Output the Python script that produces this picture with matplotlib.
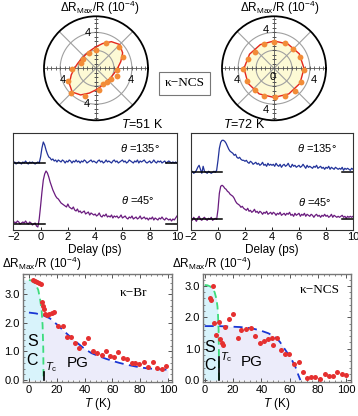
import numpy as np
import matplotlib.pyplot as plt
from matplotlib.ticker import MultipleLocator, FormatStrFormatter

plt.rcParams['font.family'] = ['Liberation Sans', 'DejaVu Sans']
plt.rcParams['mathtext.fontset'] = 'custom'
plt.rcParams['mathtext.rm'] = 'Liberation Sans'
plt.rcParams['mathtext.it'] = 'Liberation Sans:italic'
plt.rcParams['mathtext.bf'] = 'Liberation Sans:bold'

# ---- polar plots: angle (deg) and dR_max/R (1e-4) ----
pol51_ang = [-4.5, 21.9, 43.3, 68.7, 90, 115, 143.6, 161.6, 182.4, 204.6, 224.6, 248.3, 279, 294.6, 310.4, 324.6, 339.6]
pol51_amp = [2.38, 3.27, 3.51, 3.06, 2.04, 1.84, 1.75, 1.76, 2.71, 3.38, 3.95, 3.31, 2.44, 1.96, 1.94, 2.05, 2.45]
fit51_ang = [0, 15, 30, 45, 60, 75, 90, 105, 120, 135, 150, 165, 180,
             195, 210, 225, 240, 255, 270, 285, 300, 315, 330, 345, 360]
fit51_amp = [2.40, 2.86, 3.43, 3.75, 3.43, 2.86, 2.40, 2.11, 1.95, 1.90, 1.95, 2.11, 2.40,
             2.86, 3.43, 3.75, 3.43, 2.86, 2.40, 2.11, 1.95, 1.90, 1.95, 2.11, 2.40]

pol72_ang = [-3, 24.4, 45, 67.4, 90, 112.3, 138.2, 160.9, 181.8, 204.8, 228.3, 250.1, 271.3, 292.3, 313.7, 333.4]
pol72_amp = [3.30, 3.13, 2.99, 3.09, 2.96, 2.92, 2.78, 3.06, 3.45, 3.26, 3.23, 3.27, 3.15, 3.32, 3.43, 3.31]
fit72_ang = [0, 30, 60, 90, 120, 150, 180, 210, 240, 270, 300, 330, 360]
fit72_amp = [3.35, 3.25, 3.12, 3.05, 3.05, 3.15, 3.35, 3.35, 3.30, 3.25, 3.30, 3.35, 3.35]

# ---- transient traces (delay in ps, signal in 0.01 of panel height) ----
delay = np.round(np.arange(121) * 0.1 - 2.0, 1)
trace51_135 = [0, 1, -1, 0, 1, 0, -1, 1, 0, 2, 0, -1, 1, 0, 1, 0, -1, 0, 1, 0,
               6, 15, 21, 18, 13, 9, 6, 5, 3, 4,
               2, 3, 1, 3, 2, 1, 3, 2, 0, 2,
               1, 3, 2, 0, 2, 1, 3, 1, 2, 0,
               2, 1, 3, 2, 0, 1, 2, 3, 1, 2,
               1, 0, 2, 3, 1, 2, 0, 1, 3, 1,
               2, 1, 0, 2, 3, 1, 2, 0, 1, 2,
               3, 1, 2, 0, 1, 3, 2, 1, 0, 2,
               1, 3, 0, 2, 1, 2, 3, 1, 0, 1,
               2, 0, 1, 3, 1, 0, 2, 1, 2, 0,
               1, 2, 0, 1, 2, 1, 0, 1, 0, 1, 0]
trace51_45 = [1, 2, 1, 3, 2, 0, 1, 2, 1, 3, 1, 0, 2, 1, -1, 0, 1, -2, -3, 5,
              18, 32, 44, 50, 53, 51, 47, 42, 38, 34,
              31, 28, 26, 25, 23, 21, 20, 19, 18, 17,
              20, 17, 16, 15, 17, 14, 13, 15, 12, 13,
              11, 12, 13, 10, 11, 12, 9, 11, 10, 9,
              10, 8, 9, 11, 8, 7, 9, 8, 10, 7,
              8, 7, 9, 6, 8, 7, 8, 6, 7, 9,
              6, 7, 8, 6, 5, 7, 6, 8, 5, 6,
              7, 5, 6, 8, 5, 6, 7, 5, 6, 4,
              6, 5, 7, 4, 6, 5, 4, 6, 5, 7,
              5, 4, 6, 5, 4, 5, 3, 5, 4, 6, 8]
trace72_135 = [0, 1, -1, 0, 2, 5, 7, 3, -1, 6, 1, 0, -1, 1, 0, -1, 0, 1, 0, 2,
               12, 24, 30, 32, 32, 31, 29, 26, 23, 21,
               20, 19, 17, 18, 15, 14, 15, 13, 12, 12,
               11, 12, 10, 9, 11, 10, 8, 9, 10, 8,
               9, 7, 8, 10, 7, 8, 6, 9, 7, 8,
               7, 8, 6, 9, 7, 6, 8, 5, 7, 8,
               6, 7, 9, 6, 5, 8, 6, 7, 5, 6,
               7, 5, 6, 8, 6, 4, 7, 5, 6, 5,
               4, 6, 5, 7, 4, 5, 6, 4, 5, 3,
               5, 4, 6, 3, 5, 4, 3, 5, 4, 3,
               4, 3, 5, 2, 4, 3, 4, 3, 2, 4, 3]
trace72_45 = [1, -1, 2, 0, -2, 1, 3, 0, -1, 1, 2, 0, -1, 1, 0, 2, -1, 0, 1, 0,
              10, 26, 33, 34, 33, 31, 30, 28, 27, 25,
              24, 23, 21, 18, 16, 15, 14, 12, 13, 11,
              10, 9, 11, 8, 9, 7, 8, 10, 7, 8,
              6, 8, 7, 5, 7, 6, 8, 5, 6, 7,
              5, 7, 6, 4, 6, 5, 7, 4, 5, 6,
              4, 6, 5, 7, 4, 5, 3, 6, 4, 5,
              6, 3, 5, 4, 6, 3, 5, 4, 3, 5,
              4, 2, 4, 5, 3, 4, 2, 4, 3, 5,
              3, 4, 2, 3, 5, 2, 4, 3, 2, 3,
              2, 3, 4, 2, 3, 1, 3, 2, 3, 2, 3]

# ---- temperature dependence ----
br_T = [2.6, 4.3, 6.0, 7.4, 8.6, 9.1, 9.8, 10.8, 11.5, 13.2, 14.6, 16.3, 18.2, 21.1, 24.2,
        27.1, 30.2, 33.1, 36.2, 39.6, 42.7, 45.8, 49.1, 52.3, 55.4, 58.3, 61.2, 64.2,
        67.4, 70.3, 73.9, 76.3, 79.4, 82.7, 85.8, 89.0, 91.9, 95.5, 98.6]
br_amp = [3.50, 3.46, 3.42, 3.38, 3.35, 2.74, 2.60, 2.47, 2.30, 2.27, 2.30, 2.33, 2.39, 1.90, 1.90,
          1.51, 1.51, 1.28, 1.13, 1.28, 1.46, 1.01, 0.93, 0.87, 1.01, 0.84, 0.82, 0.99,
          0.76, 0.73, 0.58, 0.58, 0.55, 0.62, 0.47, 0.62, 0.41, 0.38, 0.50]
br_sc_T = [0, 2, 4, 5.5, 6.7, 7.9, 9.1, 9.8, 10.3, 10.5]
br_sc = [3.5, 3.48, 3.4, 3.28, 3.15, 2.86, 2.45, 1.92, 1.1, 0.0]
br_pg_T = [0, 5, 10, 15, 20, 25, 30, 35, 40, 45, 50, 55, 60, 65, 70, 75, 80, 85, 90, 95, 100]
br_pg = [2.36, 2.33, 2.27, 2.16, 1.95, 1.72, 1.5, 1.29, 1.09, 0.94, 0.84, 0.75, 0.67, 0.6,
         0.54, 0.49, 0.44, 0.41, 0.39, 0.37, 0.36]
br_Tc = 11.0

ncs_T = [3.5, 4.7, 6.1, 6.6, 8.2, 9.9, 10.6, 12.4, 13.2, 14.1, 16.9, 20.0, 23.5, 25.9, 29.4,
         32.5, 35.8, 38.8, 41.9, 44.7, 47.5, 48.2, 51.3, 54.1, 56.8, 59.8, 63.3, 66.4, 69.4,
         72.5, 75.3, 78.1, 81.2, 84.7, 87.5, 90.6, 93.6, 96.9, 100.0]
ncs_amp = [2.62, 2.55, 2.99, 1.83, 1.45, 1.86, 1.31, 1.18, 1.11, 1.70, 1.96, 2.10, 1.35, 1.60, 1.62,
           1.65, 1.40, 1.19, 1.26, 1.31, 1.35, 1.11, 1.35, 0.97, 0.82, 0.84, 0.52, 0.57, 0.27,
           0.07, 0.10, 0.10, 0.05, 0.19, 0.13, 0.13, 0.26, 0.19, 0.17]
ncs_sc_T = [0, 2, 4, 5.5, 7, 8.2, 9.0, 9.4, 9.8, 10.0, 10.1]
ncs_sc = [3.03, 3.02, 2.98, 2.92, 2.8, 2.6, 2.35, 2.07, 1.6, 1.0, 0.0]
ncs_pg_T = [0, 5, 10, 15, 20, 25, 30, 35, 40, 45, 50, 53, 56, 59, 62, 64, 66, 67.5]
ncs_pg = [1.72, 1.72, 1.72, 1.71, 1.70, 1.69, 1.67, 1.63, 1.57, 1.49, 1.36, 1.22, 1.02, 0.82,
          0.6, 0.42, 0.17, 0.0]
ncs_Tc = 9.9

W, H = 358, 416
fig = plt.figure(figsize=(W / 100, H / 100), dpi=100)

def rect(x0, y0, x1, y1):
    # pixel box (top-left origin) -> figure fraction
    return [x0 / W, 1 - y1 / H, (x1 - x0) / W, (y1 - y0) / H]

RMAX = 5.8
title_txt = 'ΔR$_{\\rm Max}$/R (10$^{-4}$)'

def polar_panel(box, ang, amp, fang, famp, labels):
    ax = fig.add_axes(box, projection='polar')
    ax.set_ylim(0, RMAX)
    ax.set_xticks([])
    ax.set_yticks([])
    ax.grid(False)
    ax.spines['polar'].set_linewidth(1.3)
    ring = np.linspace(0, 2 * np.pi, 300)
    for r in (2, 4):
        ax.plot(ring, np.full_like(ring, r), color='#a0a0a0', lw=0.8, zorder=1)
    for a in (45, 135, 225, 315):
        ax.plot([np.radians(a)] * 2, [0, RMAX], color='#a0a0a0', lw=0.8, zorder=1)
    for a in (0, 90, 180, 270):
        ax.plot([np.radians(a)] * 2, [0, RMAX], color='#555555', lw=0.6, zorder=1)
    tick_r = np.arange(0.5, RMAX, 0.5)
    for a, m in ((0, '|'), (180, '|'), (90, '_'), (270, '_')):
        ax.plot(np.full_like(tick_r, np.radians(a)), tick_r, ls='none', marker=m,
                ms=2.5, mew=0.6, color='#555555', zorder=1)
    th = np.radians(fang)
    ax.fill(th, famp, color='#fdfad5', zorder=0.5)
    ax.plot(th, famp, color='#e5261f', lw=1.0, zorder=2)
    ax.plot(np.radians(ang), amp, 'o', ms=4.2, color='#f28c38', mec='none', zorder=3)
    for x, y, s in labels:
        ax.text(np.arctan2(y, x), np.hypot(x, y), s, ha='center', va='center',
                fontsize=8, zorder=4)
    return ax

polar_panel(rect(44, 16.3, 148, 120.3), pol51_ang, pol51_amp, fit51_ang, fit51_amp,
            [(-0.89, 3.92, '4'), (-1.0, -3.97, '4'), (-3.67, -1.3, '4'), (3.89, -1.3, '4')])
polar_panel(rect(222, 16.3, 326, 120.3), pol72_ang, pol72_amp, fit72_ang, fit72_amp,
            [(-0.86, 4.3, '4'), (-0.86, -4.7, '4'), (-4.19, -1.3, '4'), (4.45, -1.3, '4'),
             (-0.1, -0.93, '0')])
fig.text(100 / W, 1 - 8 / H, title_txt, ha='center', va='center', fontsize=8.5)
fig.text(280 / W, 1 - 8 / H, title_txt, ha='center', va='center', fontsize=8.5)
fig.text(184.5 / W, 1 - 83.5 / H, 'κ−NCS', ha='center', va='center', fontsize=9.5,
         family=['Liberation Serif', 'DejaVu Serif'],
         bbox=dict(boxstyle='square,pad=0.4', fc='white', ec='#777777', lw=0.8))

# ---- transient traces ----
def trace_panel(box, top, bot, base_top, base_bot, lbl_top, lbl_bot, show_lead):
    ax = fig.add_axes(box)
    ax.plot(delay, base_top + np.array(top), color='#22339a', lw=0.9)
    ax.plot(delay, base_bot + np.array(bot), color='#6a1b7e', lw=0.9)
    for b in (base_top, base_bot):
        ax.plot([-2, 0.3], [b, b], color='black', lw=1.1)
        ax.plot([9.2, 10], [b, b], color='black', lw=1.1)
    ax.set_xlim(-2, 10)
    ax.set_ylim(0, 97)
    ax.set_yticks([])
    ax.set_xticks(range(-2, 11, 2))
    ax.tick_params(axis='x', direction='in', length=2.5, width=0.6, labelsize=8, pad=2)
    for sp in ax.spines.values():
        sp.set_linewidth(0.8)
        sp.set_color('#333333')
    ax.set_xlabel('Delay (ps)', fontsize=8.5, labelpad=1)
    ax.text(lbl_top[0], lbl_top[1], r'$\theta$ =135°', ha='center', va='center', fontsize=8)
    ax.text(lbl_bot[0], lbl_bot[1], r'$\theta$ =45°', ha='center', va='center', fontsize=8)
    return ax

trace_panel(rect(13.3, 132.5, 177, 229.5), trace51_135, trace51_45, 66.5, 5.5,
            (7.3, 82), (7.1, 29), True)
trace_panel(rect(191, 132.5, 353, 229.5), trace72_135, trace72_45, 57.2, 10.2,
            (7.3, 81), (7.2, 28), True)
fig.text(142 / W, 1 - 125 / H, '$T$=51 K', ha='center', va='center', fontsize=9)
fig.text(244.5 / W, 1 - 125 / H, '$T$=72 K', ha='center', va='center', fontsize=9)

# ---- temperature dependence panels ----
def temp_panel(box, xlim, ylim, T, amp, scT, sc, pgT, pg, Tc, tc_h, name, name_xy,
               s_xy, c_xy, pg_xy, tc_xy):
    ax = fig.add_axes(box)
    ax.fill_between(pgT, 0, pg, color='#ececfa', lw=0, zorder=0)
    ax.fill_between([xlim[0]] + scT, 0, [sc[0]] + sc, color='#d8f3fb', lw=0, zorder=0.5)
    ax.plot(pgT, pg, color='#1a36d4', lw=1.3, dashes=(5, 3), zorder=2)
    ax.plot(scT, sc, color='#3ddc7c', lw=1.3, dashes=(4, 2.5), zorder=2)
    ax.plot([Tc, Tc], [0, tc_h], color='black', lw=1.2, zorder=2)
    ax.plot(T, amp, 'o', ms=3.6, color='#e53030', mec='none', zorder=3)
    ax.set_xlim(*xlim)
    ax.set_ylim(*ylim)
    ax.xaxis.set_major_locator(MultipleLocator(20))
    ax.xaxis.set_minor_locator(MultipleLocator(4))
    ax.yaxis.set_major_locator(MultipleLocator(1.0))
    ax.yaxis.set_minor_locator(MultipleLocator(0.2))
    ax.yaxis.set_major_formatter(FormatStrFormatter('%.1f'))
    ax.tick_params(which='both', direction='in', top=True, right=True, color='#555555',
                   labelsize=8, pad=2)
    ax.tick_params(which='major', length=3, width=0.7)
    ax.tick_params(which='minor', length=1.6, width=0.5)
    for sp in ax.spines.values():
        sp.set_linewidth(1.0)
        sp.set_color('#777777')
    ax.set_xlabel('$T$ (K)', fontsize=8.5, labelpad=1)
    ax.text(*name_xy, name, ha='center', va='center', fontsize=9.5,
            family=['Liberation Serif', 'DejaVu Serif'])
    ax.text(*s_xy, 'S', ha='center', va='center', fontsize=11.5)
    ax.text(*c_xy, 'C', ha='center', va='center', fontsize=11.5)
    ax.text(*pg_xy, 'PG', ha='center', va='center', fontsize=11)
    ax.text(*tc_xy, '$T_{\\rm c}$', ha='left', va='center', fontsize=8)
    return ax

temp_panel(rect(22.7, 274, 171.7, 382.3), (-4.5, 102.7), (-0.08, 3.71),
           br_T, br_amp, br_sc_T, br_sc, br_pg_T, br_pg, br_Tc, 0.28, 'κ−Br',
           (75, 3.03), (2.4, 1.34), (2.4, 0.7), (34.8, 0.58), (11.6, 0.45))
temp_panel(rect(203, 274, 350.7, 382.3), (-1.2, 103), (-0.07, 3.38),
           ncs_T, ncs_amp, ncs_sc_T, ncs_sc, ncs_pg_T, ncs_pg, ncs_Tc, 0.74, 'κ−NCS',
           (81.2, 2.87), (3.7, 1.05), (3.7, 0.48), (32.9, 0.58), (10.6, 0.72))
fig.text(1.7 / W, 1 - 264 / H, title_txt, ha='left', va='center', fontsize=8.5)
fig.text(172 / W, 1 - 264 / H, title_txt, ha='left', va='center', fontsize=8.5)

fig.savefig('out.png', dpi=100)
